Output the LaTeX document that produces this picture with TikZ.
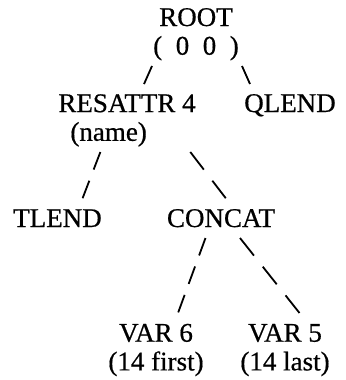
\documentclass[tikz,border=0pt]{standalone}
\usepackage{fontspec}
\setmainfont{Liberation Serif}
\newfontfamily\treefont[FakeBold=0.6]{Liberation Serif}
\usepackage{tikz}
\usetikzlibrary{arrows}
\newcommand{\TreeNode}[3]{%
  node (#1) [inner sep=0pt, font=\treefont\fontsize{13.5}{14.35}\selectfont, #2] {#3};
}
\tikzset{
  slash/.style={line width=0.9pt},
  slashes/.style 2 args={slash, dash pattern=on #1pt off #2pt}
}

\begin{document}
\begin{tikzpicture}[x=0.5pt, y=-0.5pt]
    \useasboundingbox (0,0) rectangle (346,380);
    \path (196,54.7) \TreeNode{root}{anchor=base, align=center}
      {ROOT\\(\enspace0\enspace0\enspace)}
    \path (58,140.8) \TreeNode{resattr}{anchor=base west, align=left}
      {RESATTR 4\\\hspace{6pt}(name)}
    \path (290,112) \TreeNode{qlend}{anchor=base}{QLEND}
    \path (57.5,227) \TreeNode{tlend}{anchor=base}{TLEND}
    \path (221,227) \TreeNode{concat}{anchor=base}{CONCAT}
    \path (156,370.4) \TreeNode{var6}{anchor=base, align=center}{VAR 6\\(14 first)}
    \path (285,370.4) \TreeNode{var5}{anchor=base, align=center}{VAR 5\\(14 last)}

    \draw[slash] ([shift={(-44,11.3)}]root.base) -- ([shift={(86,-56.7)}]resattr.base west);
    \draw[slash] ([shift={(46,11.3)}]root.base) -- ([shift={(-40,-28)}]qlend.base);
    \draw[slashes={9.43}{5.95}]
      ([shift={(42.4,11.2)}]resattr.base west) -- ([shift={(25.1,-28.8)}]tlend.base);
    \draw[slashes={11.1}{7.0}]
      ([shift={(132.3,11.2)}]resattr.base west) -- ([shift={(4.75,-28.8)}]concat.base);
    \draw[slashes={9.3}{5.86}]
      ([shift={(-15.5,11)}]concat.base) -- ([shift={(22,-57.4)}]var6.base);
    \draw[slashes={11.23}{7.08}]
      ([shift={(19,11)}]concat.base) -- ([shift={(14.5,-57.4)}]var5.base);
\end{tikzpicture}
\end{document}
